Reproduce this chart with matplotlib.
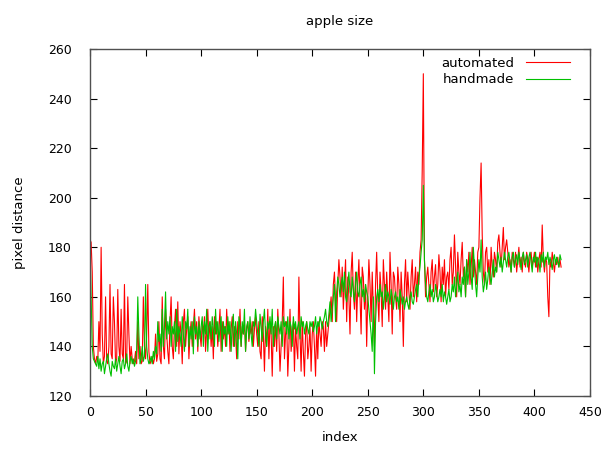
import numpy as np
import matplotlib
matplotlib.use("Agg")
from matplotlib import pyplot as plt

# apple size (one value per index)
automated = [
    183, 182, 170, 140, 135, 133, 136, 134, 150, 138, 180, 145, 133, 136, 160, 134, 133, 140, 165, 137, 135, 160, 150, 133, 135,
    163, 140, 134, 155, 137, 135, 165, 133, 134, 160, 145, 133, 140, 135, 133, 134, 138, 133, 150, 135, 140, 133, 134, 160, 140,
    135, 145, 165, 138, 133, 134, 136, 133, 135, 145, 134, 137, 150, 135, 133, 160, 140, 135, 155, 145, 138, 133, 150, 160, 140,
    135, 148, 155, 140, 158, 137, 150, 145, 133, 150, 155, 140, 147, 152, 135, 145, 150, 140, 148, 155, 143, 150, 138, 152, 145,
    140, 150, 145, 152, 138, 147, 155, 143, 150, 140, 148, 135, 152, 145, 150, 140, 147, 155, 138, 150, 143, 148, 140, 155, 145,
    150, 138, 147, 152, 140, 148, 145, 135, 150, 143, 155, 140, 148, 145, 150, 138, 147, 150, 142, 148, 145, 150, 140, 147, 152,
    145, 140, 150, 138, 135, 152, 145, 130, 148, 140, 155, 135, 150, 145, 128, 148, 140, 150, 138, 155, 145, 130, 140, 150, 168,
    135, 145, 150, 128, 140, 155, 138, 145, 150, 130, 148, 140, 135, 168, 145, 130, 150, 138, 128, 145, 150, 135, 140, 148, 130,
    145, 150, 140, 128, 148, 135, 150, 145, 140, 150, 148, 138, 150, 140, 145, 150, 155, 160, 150, 165, 170, 158, 150, 165, 175,
    168, 160, 172, 155, 165, 175, 150, 168, 160, 145, 170, 178, 162, 155, 170, 150, 165, 175, 160, 145, 172, 168, 155, 165, 140,
    160, 175, 165, 150, 170, 155, 140, 165, 178, 160, 150, 170, 162, 148, 175, 165, 155, 170, 160, 150, 178, 165, 145, 170, 168,
    160, 155, 172, 165, 150, 170, 160, 140, 165, 175, 158, 170, 162, 155, 168, 175, 160, 165, 172, 158, 170, 165, 178, 183, 211,
    250, 175, 160, 168, 172, 165, 158, 170, 175, 162, 168, 173, 160, 165, 177, 170, 158, 172, 165, 175, 160, 168, 170, 163, 175,
    180, 165, 170, 185, 172, 160, 178, 170, 165, 175, 182, 168, 172, 160, 175, 170, 178, 165, 172, 180, 168, 175, 170, 165, 178,
    180, 200, 214, 185, 170, 165, 178, 180, 170, 175, 165, 180, 172, 168, 178, 175, 170, 182, 185, 178, 172, 180, 188, 175, 180,
    183, 178, 172, 175, 170, 178, 175, 172, 178, 170, 175, 180, 172, 176, 170, 178, 174, 172, 178, 175, 170, 176, 178, 172, 175,
    178, 172, 176, 170, 175, 178, 172, 189, 175, 170, 176, 174, 160, 152, 175, 172, 178, 174, 170, 175, 173, 176, 172, 175, 172,
]

handmade = [
    180, 160, 140, 135, 134, 133, 132, 136, 131, 135, 130, 133, 134, 129, 132, 135, 137, 133, 130, 128, 134, 132, 131, 135, 130,
    133, 136, 132, 129, 134, 135, 131, 133, 137, 132, 130, 134, 136, 133, 135, 132, 134, 138, 160, 145, 133, 135, 140, 134, 136,
    165, 140, 135, 133, 134, 136, 133, 138, 135, 140, 137, 150, 142, 145, 138, 155, 140, 148, 162, 143, 150, 145, 152, 140, 148,
    145, 150, 138, 155, 142, 148, 145, 140, 152, 145, 138, 150, 147, 155, 140, 148, 143, 150, 137, 152, 145, 148, 140, 150, 143,
    148, 152, 140, 150, 145, 155, 138, 148, 150, 143, 152, 147, 140, 155, 145, 150, 142, 148, 152, 138, 150, 145, 148, 140, 152,
    145, 150, 138, 148, 153, 140, 150, 145, 135, 152, 148, 140, 150, 145, 155, 138, 148, 150, 143, 152, 145, 140, 150, 148, 155,
    150, 145, 140, 153, 148, 142, 150, 155, 145, 140, 150, 147, 152, 145, 155, 140, 148, 150, 143, 152, 148, 145, 150, 140, 152,
    148, 150, 145, 152, 143, 150, 148, 140, 152, 147, 150, 145, 148, 150, 143, 152, 148, 150, 145, 148, 150, 147, 145, 150, 148,
    150, 146, 148, 152, 145, 150, 148, 152, 150, 147, 150, 152, 155, 150, 148, 153, 158, 150, 155, 160, 165, 150, 162, 168, 165,
    160, 165, 168, 162, 170, 160, 158, 165, 170, 162, 160, 168, 163, 158, 165, 170, 162, 160, 165, 168, 160, 163, 158, 165, 162,
    160, 155, 150, 145, 138, 160, 129, 150, 160, 163, 158, 165, 160, 162, 155, 160, 165, 158, 162, 160, 157, 163, 160, 155, 160,
    162, 158, 160, 155, 163, 160, 157, 160, 155, 158, 160, 157, 155, 160, 162, 158, 157, 160, 163, 165, 160, 168, 172, 178, 183,
    205, 175, 165, 160, 158, 162, 165, 160, 163, 158, 160, 165, 162, 158, 160, 163, 160, 165, 158, 162, 160, 157, 160, 163, 158,
    160, 165, 162, 168, 160, 165, 170, 162, 165, 160, 168, 165, 172, 160, 175, 165, 170, 178, 168, 163, 180, 172, 165, 160, 168,
    175, 170, 183, 168, 162, 165, 170, 163, 167, 172, 168, 165, 170, 175, 168, 172, 170, 178, 175, 172, 176, 170, 174, 178, 175,
    172, 176, 178, 174, 170, 176, 178, 172, 175, 177, 173, 178, 175, 171, 176, 178, 173, 175, 177, 172, 176, 178, 174, 170, 176,
    174, 178, 172, 176, 175, 170, 177, 174, 178, 172, 176, 175, 178, 173, 176, 174, 171, 175, 177, 173, 176, 174, 172, 177, 175,
]

xticks = np.arange(0, 451, 50)
yticks = np.arange(120, 261, 20)

plt.rcParams['font.family'] = ['DejaVu Sans']
fig = plt.figure(figsize=(6.14, 4.49), dpi=100)
ax = fig.add_axes([0.1466, 0.118, 0.8143, 0.773])

ax.plot(np.arange(len(automated)), automated, color='#ff0000', lw=0.8, label='automated')
ax.plot(np.arange(len(handmade)), handmade, color='#00c000', lw=0.8, label='handmade')

ax.set_xlim(0, 450)
ax.set_ylim(120, 260)
ax.set_xticks(xticks)
ax.set_yticks(yticks)
ax.tick_params(direction='in', top=True, right=True, labelsize=9, length=5, color='black')
ax.tick_params(axis='y', pad=13)
ax.tick_params(axis='x', pad=7)
for s in ax.spines.values():
    s.set_color('#505050')
    s.set_linewidth(1.0)

ax.set_title('apple size', fontsize=9.5, pad=17)
ax.set_xlabel('index', fontsize=9.5, labelpad=9)
ax.set_ylabel('pixel distance', fontsize=9.5, labelpad=16)

ax.legend(loc='upper right', frameon=False, markerfirst=False, fontsize=9.5,
          handlelength=3.3, handletextpad=0.9, labelspacing=0.25,
          borderaxespad=0.2, bbox_to_anchor=(0.975, 1.0))

fig.savefig('out.png', dpi=100)
